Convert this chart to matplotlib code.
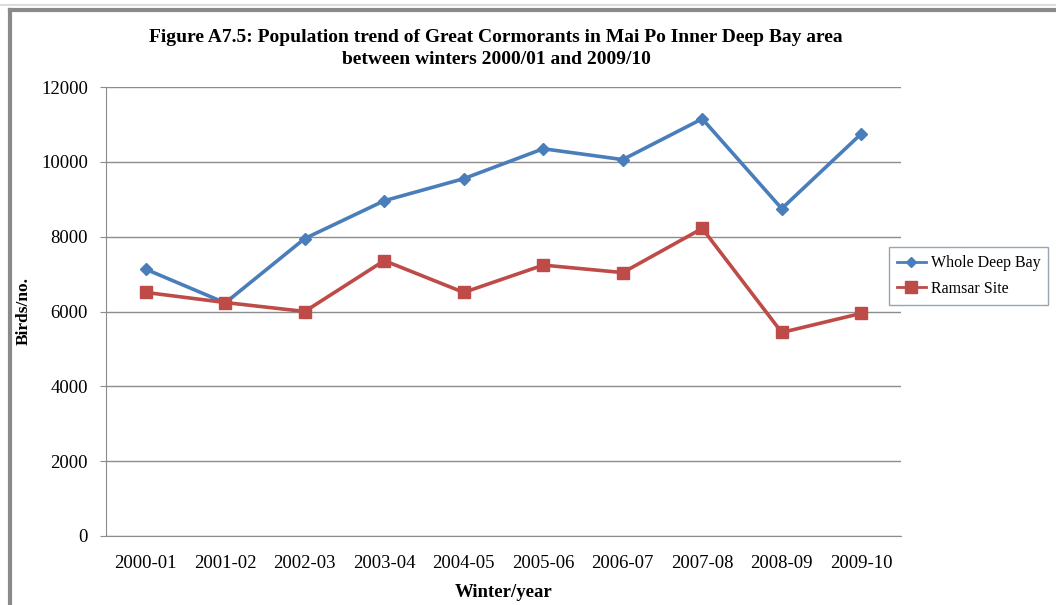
import matplotlib.pyplot as plt
from matplotlib.lines import Line2D

winters = ["2000-01", "2001-02", "2002-03", "2003-04", "2004-05",
           "2005-06", "2006-07", "2007-08", "2008-09", "2009-10"]
whole_deep_bay = [7130, 6230, 7950, 8960, 9550, 10350, 10060, 11150, 8750, 10750]
ramsar_site = [6510, 6240, 6000, 7360, 6510, 7240, 7040, 8220, 5440, 5950]

blue = "#4a7ebb"
red = "#be4b48"
grid_col = "#8c8c8c"

plt.rcParams['font.family'] = ['Liberation Serif', 'DejaVu Serif']

fig = plt.figure(figsize=(10.56, 6.05), dpi=100)
ax = fig.add_axes([106 / 1056, 1 - 536 / 605, 795 / 1056, 449 / 605])

x = range(len(winters))
ax.plot(x, whole_deep_bay, color=blue, lw=2.6, marker="D", ms=6,
        label="Whole Deep Bay", zorder=3)
ax.plot(x, ramsar_site, color=red, lw=2.6, marker="s", ms=8,
        label="Ramsar Site", zorder=3)

ax.set_xlim(-0.5, len(winters) - 0.5)
ax.set_ylim(0, 12000)
ax.set_yticks(range(0, 12001, 2000))
ax.set_xticks(list(x))
ax.set_xticklabels(winters)
ax.yaxis.grid(True, color=grid_col, lw=1)
ax.set_axisbelow(True)
for s in ["top", "right"]:
    ax.spines[s].set_visible(False)
for s in ["left", "bottom"]:
    ax.spines[s].set_color(grid_col)
ax.tick_params(axis="y", length=4, color=grid_col, labelsize=13.5, pad=9)
ax.tick_params(axis="x", length=0, labelsize=13.5, pad=14)

ax.set_xlabel("Winter/year", fontsize=13.5, fontweight="bold", labelpad=8)
fig.text(24 / 1056, 1 - 311 / 605, "Birds/no.", rotation=90, fontsize=12.5,
         fontweight="bold", ha="center", va="center")

fig.text(496 / 1056, 1 - 37 / 605,
         "Figure A7.5: Population trend of Great Cormorants in Mai Po Inner Deep Bay area",
         fontsize=14, fontweight="bold", ha="center", va="center")
fig.text(496 / 1056, 1 - 59 / 605, "between winters 2000/01 and 2009/10",
         fontsize=14, fontweight="bold", ha="center", va="center")

handles = [Line2D([], [], color=blue, lw=2, marker="D", ms=5),
           Line2D([], [], color=red, lw=2, marker="s", ms=8)]
leg = fig.legend(handles, ["Whole Deep Bay", "Ramsar Site"],
                 loc="center left", bbox_to_anchor=(881 / 1056, 1 - 276 / 605),
                 fontsize=11.5, frameon=True, fancybox=False, handlelength=1.8,
                 handletextpad=0.3, borderpad=0.5, labelspacing=0.6)
leg.get_frame().set_edgecolor("#7f8fa0")
leg.get_frame().set_linewidth(1)

# outer chart border (top and left only visible)
fig.add_artist(Line2D([10 / 1056, 1.0], [1 - 10 / 605] * 2, color="#8a8a8a", lw=3))
fig.add_artist(Line2D([10 / 1056] * 2, [0, 1 - 10 / 605], color="#8a8a8a", lw=3))
fig.add_artist(Line2D([0, 1.0], [1 - 5 / 605] * 2, color="#dcdcdc", lw=1.5))

fig.savefig("out.png", dpi=100)
